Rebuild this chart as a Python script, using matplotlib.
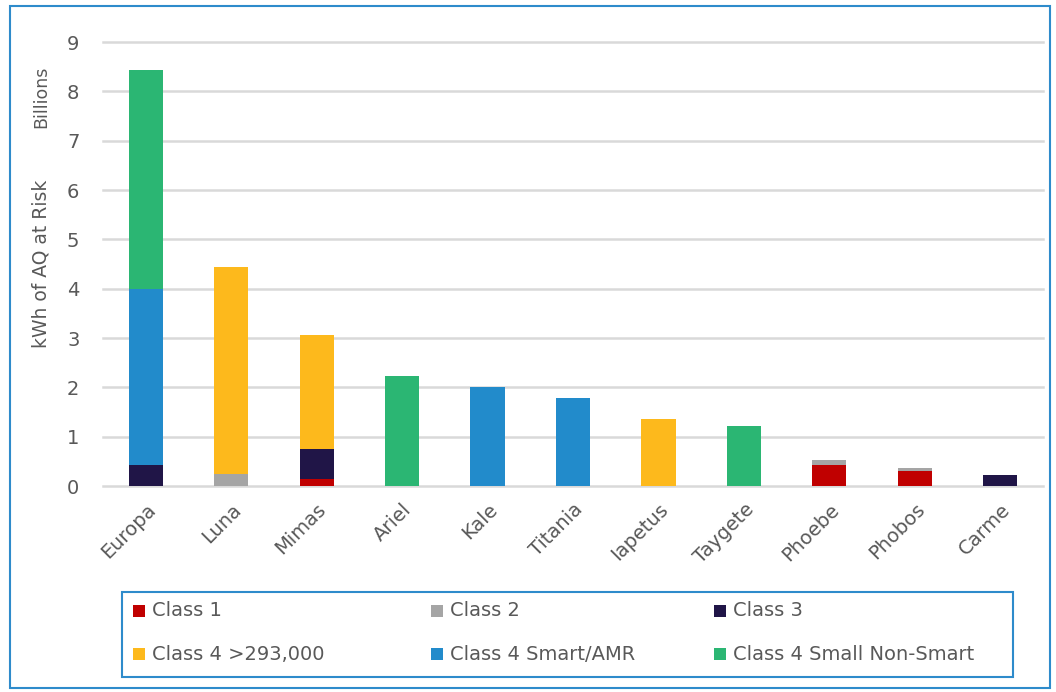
import matplotlib
matplotlib.use("Agg")
import matplotlib.pyplot as plt
from matplotlib.patches import Rectangle
import numpy as np

plt.rcParams['font.family'] = ['DejaVu Sans']

categories = ["Europa", "Luna", "Mimas", "Ariel", "Kale", "Titania", "Iapetus",
              "Taygete", "Phoebe", "Phobos", "Carme"]
series_names = ["Class 1", "Class 2", "Class 3", "Class 4 >293,000",
                "Class 4 Smart/AMR", "Class 4 Small Non-Smart"]
class1 = [0.0, 0.0, 0.14, 0.0, 0.0, 0.0, 0.0, 0.0, 0.43, 0.30, 0.0]
class2 = [0.0, 0.25, 0.0, 0.0, 0.0, 0.0, 0.0, 0.0, 0.10, 0.07, 0.0]
class3 = [0.43, 0.0, 0.62, 0.0, 0.0, 0.0, 0.0, 0.0, 0.0, 0.0, 0.22]
class4_large = [0.0, 4.19, 2.30, 0.0, 0.0, 0.0, 1.36, 0.0, 0.0, 0.0, 0.0]
class4_smart = [3.57, 0.0, 0.0, 0.0, 2.0, 1.79, 0.0, 0.0, 0.0, 0.0, 0.0]
class4_small = [4.44, 0.0, 0.0, 2.23, 0.0, 0.0, 0.0, 1.22, 0.0, 0.0, 0.0]
yticks = [0, 1, 2, 3, 4, 5, 6, 7, 8, 9]

colors = ["#C00000", "#A5A5A5", "#201547", "#FDB91C", "#228BCB", "#2BB673"]
series = [class1, class2, class3, class4_large, class4_smart, class4_small]

W, H = 1056, 692
text_color = "#595959"
fig = plt.figure(figsize=(W / 100, H / 100), dpi=100)
ax = fig.add_axes([103 / W, 1 - 486 / H, (1043 - 103) / W, (486 - 42) / H])

x = np.arange(len(categories))
bottom = np.zeros(len(categories))
for vals, col, name in zip(series, colors, series_names):
    v = np.array(vals)
    ax.bar(x, v, width=0.4, bottom=bottom, color=col, label=name, zorder=3,
           linewidth=0)
    bottom += v

ax.set_xlim(-0.5, len(categories) - 0.5)
ax.set_ylim(0, 9)
ax.set_yticks(yticks)
ax.set_yticklabels([str(t) for t in yticks])
ax.yaxis.grid(True, color="#D9D9D9", linewidth=1.8, zorder=0)
for gl in ax.yaxis.get_gridlines():
    gl.set_clip_on(False)
ax.set_axisbelow(True)
for s in ax.spines.values():
    s.set_visible(False)
ax.tick_params(axis='both', length=0, colors=text_color, labelsize=14)
ax.tick_params(axis='y', pad=17)
ax.set_xticks(x)
ax.set_xticklabels(categories, rotation=45, ha='right', rotation_mode='anchor')
ax.tick_params(axis='x', pad=10)

fig.text(41 / W, 1 - 264 / H, "kWh of AQ at Risk", rotation=90, ha='center', va='center',
         fontsize=13.5, color=text_color)
fig.text(41 / W, 1 - 97 / H, "Billions", rotation=90, ha='center', va='center',
         fontsize=12.5, color=text_color)

# legend (drawn as a boxed key with three columns)
fig.patches.append(Rectangle((122 / W, 1 - 677 / H), (1013 - 122) / W, (677 - 592) / H,
                             transform=fig.transFigure, fill=True, facecolor="white",
                             edgecolor="#2E8BCB", linewidth=1.5, zorder=1))
col_x = [133, 431, 714]
row_y = [611, 654]
for k, name in enumerate(series_names):
    cx = col_x[k % 3]
    cy = row_y[k // 3]
    fig.patches.append(Rectangle((cx / W, 1 - (cy + 6) / H), 12 / W, 12 / H,
                                 transform=fig.transFigure, facecolor=colors[k],
                                 edgecolor='none', zorder=2))
    fig.text((cx + 19) / W, 1 - cy / H, name, ha='left', va='center',
             fontsize=14, color=text_color, zorder=3)

# outer border
fig.patches.append(Rectangle((10 / W, 4 / H), 1040 / W, 682 / H,
                             transform=fig.transFigure, fill=False,
                             edgecolor="#2E8BCB", linewidth=1.5))

fig.savefig("out.png", dpi=100)
